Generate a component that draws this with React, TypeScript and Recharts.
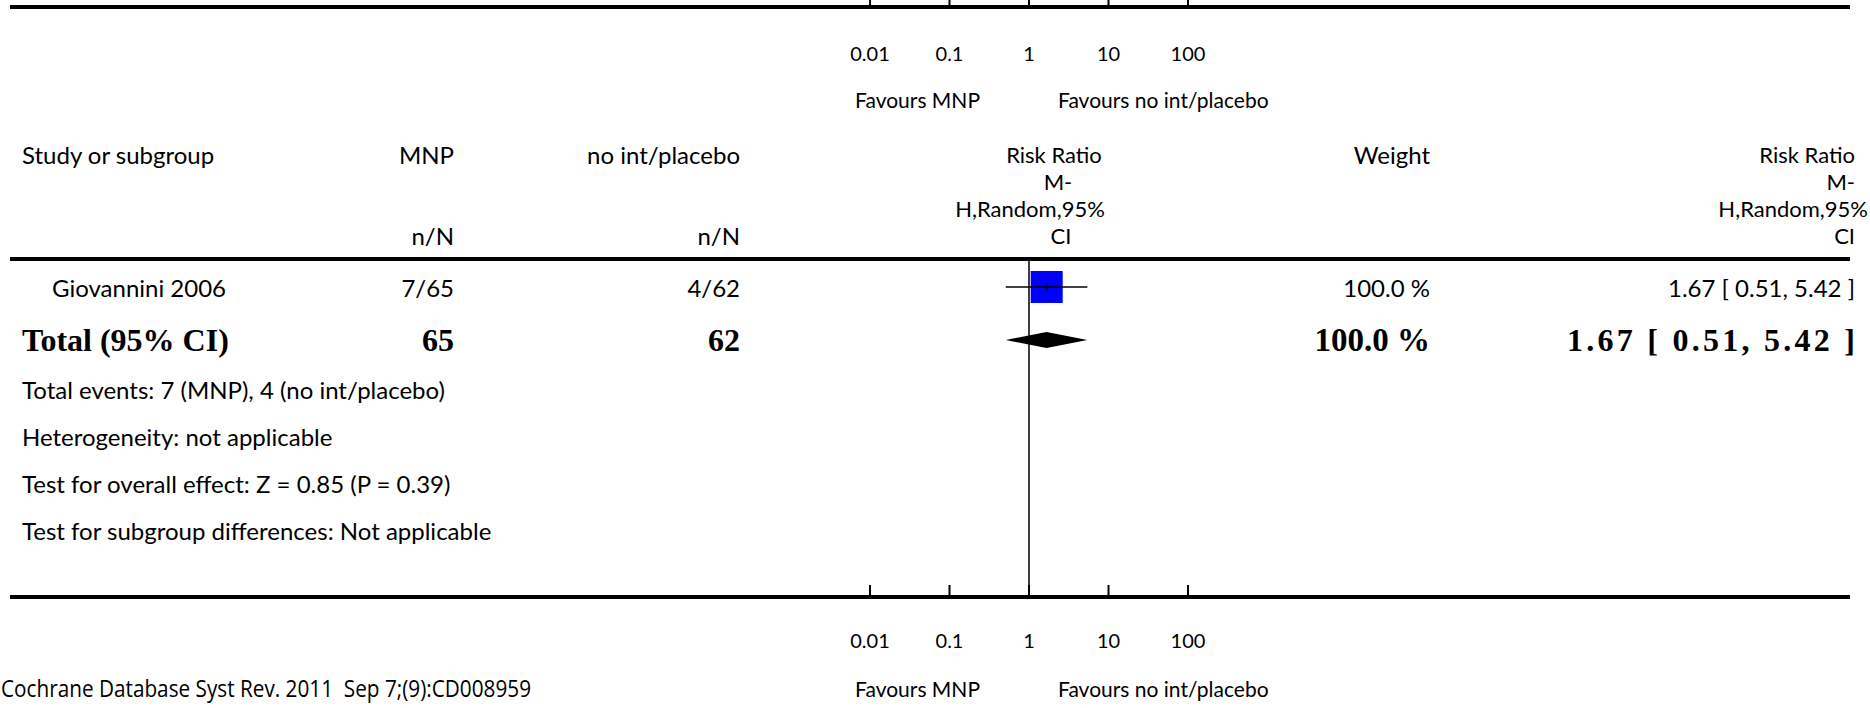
import React from 'react';
import { ComposedChart, Scatter, XAxis, YAxis, ReferenceLine, ReferenceArea } from 'recharts';

// ---------- data ----------
const axisTicks = [0.01, 0.1, 1, 10, 100];
const axisTickLabels = ['0.01', '0.1', '1', '10', '100'];
const favoursLeft = 'Favours MNP';
const favoursRight = 'Favours no int/placebo';

const studyNames = ['Giovannini 2006'];
const mnpEvents = ['7/65'];
const ctrlEvents = ['4/62'];
const studyRR = [1.67];
const studyLow = [0.51];
const studyHigh = [5.42];
const studyWeights = ['100.0 %'];
const studyRRText = ['1.67 [ 0.51, 5.42 ]'];

const totalLabel = 'Total (95% CI)';
const totalMnpN = '65';
const totalCtrlN = '62';
const totalWeight = '100.0 %';
const totalRR = 1.67;
const totalLow = 0.51;
const totalHigh = 5.42;
const totalRRText = '1.67 [ 0.51, 5.42 ]';

const footnotes = [
  'Total events: 7 (MNP), 4 (no int/placebo)',
  'Heterogeneity: not applicable',
  'Test for overall effect: Z = 0.85 (P = 0.39)',
  'Test for subgroup differences: Not applicable',
];
const citation = 'Cochrane Database Syst Rev. 2011  Sep 7;(9):CD008959';

// ---------- layout ----------
const W = 1870;
const H = 708;
const PLOT_LEFT = 870;
const PLOT_RIGHT = 1188;
const PLOT_TOP = 7;
const PLOT_BOTTOM = 597;
const ROW_PX = 53; // px per row unit
const STUDY_ROW_PX = 287; // pixel of row 1
const Y_MIN = 1 - (STUDY_ROW_PX - PLOT_TOP) / ROW_PX;
const Y_MAX = 1 + (PLOT_BOTTOM - STUDY_ROW_PX) / ROW_PX;
const RULE_Y = 259;
const RULE_ROW = 1 - (STUDY_ROW_PX - RULE_Y) / ROW_PX;
const DIAMOND_HALF = 8 / ROW_PX;
const LINE_RIGHT = 1850;
const COL_MNP = 454;
const COL_CTRL = 740;
const COL_W = 1430;
const COL_RR = 1855;

const SANS = 'Lato, "Noto Sans", sans-serif';
const SERIF = '"Liberation Serif", "DejaVu Serif", serif';

const studyPoints = studyNames.map((_, i) => ({ x: studyRR[i], y: i + 1 }));
const totalRow = studyNames.length + 1;

const BoxShape = (props: any) => {
  const { cx, cy } = props;
  const s = 32;
  return (
    <g>
      <rect x={cx - s / 2} y={cy - s / 2} width={s} height={s} fill="#0000FF" />
      <line x1={cx} x2={cx} y1={cy - 4} y2={cy + 4} stroke="#000" strokeWidth={1} />
    </g>
  );
};

const DiamondShape = (props: any) => {
  const { x, y, width, height } = props;
  const cx = x + width / 2;
  const cy = y + height / 2;
  const pts = `${x},${cy} ${cx},${y} ${x + width},${cy} ${cx},${y + height}`;
  return <polygon points={pts} fill="#000" stroke="none" />;
};

const makeTick = (labelDy: number, tickUp: number) => (props: any) => {
  const { x, y, payload } = props;
  const idx = axisTicks.indexOf(payload.value);
  return (
    <g>
      <line x1={x} x2={x} y1={y} y2={y - tickUp} stroke="#000" strokeWidth={2} />
      <text x={x} y={y + labelDy} textAnchor="middle" dominantBaseline="central"
        fontFamily={SANS} fontSize={20} fill="#000">
        {axisTickLabels[idx]}
      </text>
    </g>
  );
};

const TopTick = makeTick(46, 8);
const BottomTick = makeTick(43, 12);

const T = (p: any) => (
  <text dominantBaseline="central" fontFamily={SANS} fontSize={24} fill="#000" {...p} style={{ whiteSpace: 'pre' }} />
);
const B = (p: any) => (
  <text dominantBaseline="central" fontFamily={SERIF} fontWeight="bold" fontSize={32} fill="#000" {...p} style={{ whiteSpace: 'pre' }} />
);

export default function App() {
  const rowPx = (r: number) => STUDY_ROW_PX + (r - 1) * ROW_PX;
  const footY = [389, 436, 483, 530];
  const hdr = [154, 181, 208, 235];
  const HS = 22; // stacked header font size
  return (
    <div style={{ position: 'absolute', left: 0, top: 0, width: W, height: H, background: '#fff' }}>
      <ComposedChart
        width={W}
        height={H}
        margin={{ top: PLOT_TOP - 1, right: W - PLOT_RIGHT, bottom: H - PLOT_BOTTOM - 1, left: PLOT_LEFT }}
      >
        <XAxis xAxisId="b" type="number" dataKey="x" scale="log" domain={[0.01, 100]} ticks={axisTicks}
          orientation="bottom" height={1} tickSize={0} tickMargin={0} interval={0}
          axisLine={false} tickLine={false} tick={<BottomTick />} allowDataOverflow />
        <XAxis xAxisId="t" type="number" dataKey="x" scale="log" domain={[0.01, 100]} ticks={axisTicks}
          orientation="top" height={1} tickSize={0} tickMargin={0} interval={0}
          axisLine={false} tickLine={false} tick={<TopTick />} allowDataOverflow />
        <YAxis yAxisId="r" type="number" dataKey="y" domain={[Y_MIN, Y_MAX]} reversed hide allowDataOverflow />
        <ReferenceLine xAxisId="b" yAxisId="r" segment={[{ x: 1, y: RULE_ROW }, { x: 1, y: Y_MAX }]}
          stroke="#000" strokeWidth={1.5} ifOverflow="visible" />
        <ReferenceArea xAxisId="b" yAxisId="r" x1={totalLow} x2={totalHigh}
          y1={totalRow - DIAMOND_HALF} y2={totalRow + DIAMOND_HALF}
          shape={<DiamondShape />} ifOverflow="visible" />
        <Scatter xAxisId="b" yAxisId="r" data={studyPoints} dataKey="y" shape={<BoxShape />} isAnimationActive={false} />
        {studyNames.map((_, i) => (
          <Scatter key={'ci' + i} xAxisId="b" yAxisId="r"
            data={[{ x: studyLow[i], y: i + 1 }, { x: studyHigh[i], y: i + 1 }]}
            dataKey="y" line={{ stroke: '#000', strokeWidth: 1.5 }} shape={() => <g />} isAnimationActive={false} />
        ))}
      </ComposedChart>
      <svg width={W} height={H} style={{ position: 'absolute', left: 0, top: 0, pointerEvents: 'none' }}>
        {/* rules */}
        <line x1={10} x2={LINE_RIGHT} y1={PLOT_TOP} y2={PLOT_TOP} stroke="#000" strokeWidth={4} />
        <line x1={10} x2={LINE_RIGHT} y1={RULE_Y} y2={RULE_Y} stroke="#000" strokeWidth={4} />
        <line x1={10} x2={LINE_RIGHT} y1={PLOT_BOTTOM} y2={PLOT_BOTTOM} stroke="#000" strokeWidth={4} />

        {/* favours labels */}
        <T x={980} y={99} textAnchor="end" fontSize={21}>{favoursLeft}</T>
        <T x={1058} y={99} textAnchor="start" fontSize={21}>{favoursRight}</T>
        <T x={980} y={688} textAnchor="end" fontSize={21}>{favoursLeft}</T>
        <T x={1058} y={688} textAnchor="start" fontSize={21}>{favoursRight}</T>

        {/* header */}
        <T x={22} y={hdr[0]}>Study or subgroup</T>
        <T x={COL_MNP} y={hdr[0]} textAnchor="end">MNP</T>
        <T x={COL_CTRL} y={hdr[0]} textAnchor="end">no int/placebo</T>
        <T x={COL_MNP} y={hdr[3]} textAnchor="end">n/N</T>
        <T x={COL_CTRL} y={hdr[3]} textAnchor="end">n/N</T>
        <T x={1054} y={hdr[0]} textAnchor="middle" fontSize={HS}>Risk Ratio</T>
        <T x={1058} y={hdr[1]} textAnchor="middle" fontSize={HS}>M-</T>
        <T x={1030} y={hdr[2]} textAnchor="middle" fontSize={HS}>H,Random,95%</T>
        <T x={1061} y={hdr[3]} textAnchor="middle" fontSize={HS}>CI</T>
        <T x={COL_W} y={hdr[0]} textAnchor="end">Weight</T>
        <T x={COL_RR} y={hdr[0]} textAnchor="end" fontSize={HS}>Risk Ratio</T>
        <T x={COL_RR} y={hdr[1]} textAnchor="end" fontSize={HS}>M-</T>
        <T x={1868} y={hdr[2]} textAnchor="end" fontSize={HS}>H,Random,95%</T>
        <T x={COL_RR} y={hdr[3]} textAnchor="end" fontSize={HS}>CI</T>

        {/* studies */}
        {studyNames.map((s, i) => (
          <g key={s}>
            <T x={52} y={rowPx(i + 1)}>{s}</T>
            <T x={COL_MNP} y={rowPx(i + 1)} textAnchor="end">{mnpEvents[i]}</T>
            <T x={COL_CTRL} y={rowPx(i + 1)} textAnchor="end">{ctrlEvents[i]}</T>
            <T x={COL_W} y={rowPx(i + 1)} textAnchor="end">{studyWeights[i]}</T>
            <T x={COL_RR} y={rowPx(i + 1)} textAnchor="end">{studyRRText[i]}</T>
          </g>
        ))}

        {/* total */}
        <B x={22} y={rowPx(totalRow)}>{totalLabel}</B>
        <B x={COL_MNP} y={rowPx(totalRow)} textAnchor="end">{totalMnpN}</B>
        <B x={COL_CTRL} y={rowPx(totalRow)} textAnchor="end">{totalCtrlN}</B>
        <B x={COL_W} y={rowPx(totalRow)} textAnchor="end" fontSize={33}>{totalWeight}</B>
        <B x={COL_RR - 288} y={rowPx(totalRow)} textAnchor="start" textLength={288} lengthAdjust="spacing">{totalRRText}</B>

        {footnotes.map((f, i) => (
          <T key={f} x={22} y={footY[i]}>{f}</T>
        ))}

        <text x={1} y={688} dominantBaseline="central" fontFamily='"Open Sans", "Noto Sans", sans-serif'
          fontSize={23} fill="#000" textLength={530} lengthAdjust="spacingAndGlyphs"
          style={{ whiteSpace: 'pre' }}>{citation}</text>
      </svg>
    </div>
  );
}
